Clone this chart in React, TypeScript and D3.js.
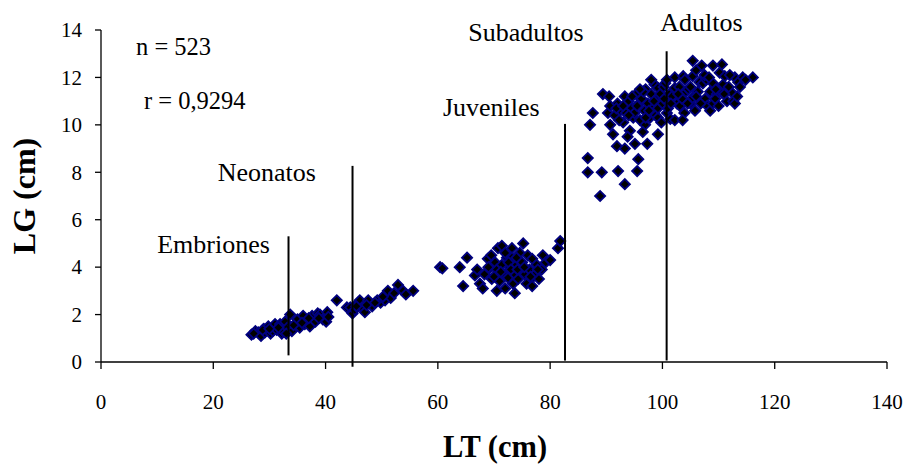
import React from "react";
import * as d3 from "d3";

// LT (cm) vs LG (cm) measurements, grouped by life stage cluster
const embrionesNeonatos: [number, number][] = [
  [26.8, 1.15], [27.5, 1.3], [28, 1.25], [28.5, 1.1], [29, 1.4], [29.2, 1.25], [29.8, 1.5],
  [30.2, 1.2], [30.6, 1.3], [31, 1.6], [31.3, 1.35], [31.9, 1.6], [32.2, 1.2], [32.4, 1.3],
  [32.8, 1.7], [33.2, 1.45], [33.7, 2.0], [34, 1.3], [34.6, 1.6], [35, 1.8], [35.4, 1.45],
  [36, 1.95], [36.3, 1.6], [36.8, 1.75], [37.2, 1.5], [37.6, 1.95], [38.2, 1.7], [38.6, 2.05],
  [39, 2.0], [39.5, 1.8], [40.1, 1.7], [40.3, 2.1], [42, 2.6], [43.8, 2.3], [44.4, 2.3],
  [44.8, 2.05], [45.2, 2.2], [45.8, 2.5], [46.1, 2.6], [46.5, 2.3], [47, 2.1], [47.6, 2.6],
  [48.3, 2.35], [49.2, 2.6], [49.8, 2.5], [50.6, 2.6], [51.1, 3.0], [51.6, 2.7], [52.9, 3.25],
  [53.8, 3.0], [54.3, 2.85], [55.6, 3.0],
  [27.2, 1.2], [28.8, 1.35], [30, 1.4], [31.6, 1.45], [33, 1.2], [34.3, 1.55], [35.8, 1.65],
  [37, 1.85], [38.8, 1.85], [40.5, 1.9], [45.5, 2.35], [47.3, 2.4], [48.8, 2.5], [50.2, 2.75],
  [52.2, 2.9],
];

const juveniles: [number, number][] = [
  [60.4, 4.0], [60.8, 3.95], [63.9, 4.0], [64.5, 3.2], [65.2, 4.4], [66.6, 3.65], [67, 3.9],
  [67.5, 3.3], [68, 3.1], [68.3, 3.7], [68.9, 4.35], [69.2, 3.95], [69.6, 3.5], [70.2, 4.2],
  [70.5, 3.0], [70.5, 3.9], [70.7, 4.8], [71, 3.4], [71.4, 4.9], [71.4, 4.1], [71.8, 3.7],
  [72, 3.1], [72.3, 4.4], [72.5, 3.55], [72.8, 4.0], [73.2, 4.8], [73.2, 4.4], [73.4, 3.3],
  [73.7, 3.7], [73.7, 2.9], [74, 4.1], [74.3, 3.5], [74.6, 4.6], [74.8, 3.9], [75, 4.2],
  [75.2, 5.0], [75.5, 3.7], [75.8, 3.3], [76, 4.5], [76.3, 3.9], [76.8, 4.35], [76.8, 3.2],
  [77, 3.6], [77.3, 3.7], [77.6, 4.1], [78, 3.5], [78.5, 3.9], [78.7, 4.5], [79.2, 4.2],
  [80, 4.3], [81.4, 4.8], [81.8, 5.1],
  [69, 4.0], [70, 3.6], [71.2, 3.8], [72.6, 4.2], [73, 3.9], [74.2, 3.9], [75.4, 4.0],
  [76.5, 3.6], [77.8, 3.9], [74, 4.4], [72, 4.6], [69.5, 4.5],
];

const subadultosAdultos: [number, number][] = [
  [86.7, 8.6], [86.7, 8.0], [88.9, 7.0], [89.2, 8.0], [92.1, 8.05], [93.3, 7.5], [95.5, 8.05],
  [95.7, 8.55], [91.9, 9.1], [93.3, 9.0], [95.1, 9.2], [97.3, 9.2], [87.1, 10.0], [87.6, 10.5],
  [89.4, 11.3], [90.3, 10.5], [90.7, 10.8], [90.7, 10.0], [93.3, 11.2], [93, 10.1], [94.8, 10.3],
  [94.2, 9.75], [96.9, 10.0], [96.5, 9.7], [99.2, 9.6], [91.2, 9.6], [93.8, 9.5],
  [91.5, 10.4], [92, 10.9], [92.5, 10.6], [93.5, 10.5], [94, 11.0], [94.5, 10.7], [95, 10.5],
  [95.3, 11.3], [95.8, 10.9], [96, 10.2], [96.3, 11.1], [96.8, 10.6], [97, 11.5], [97.4, 10.9],
  [97.8, 10.3], [98, 11.3], [98.3, 10.7], [98.6, 11.7], [98.8, 10.4], [99, 11.0], [99.2, 10.3],
  [99.2, 10.7], [99.2, 11.15], [99.2, 11.55], [99.6, 11.3], [100, 10.9], [100.2, 11.6],
  [100.5, 11.75], [100.8, 10.5], [101, 10.7], [101.2, 11.3], [101.4, 10.25], [101.7, 11.2],
  [102.2, 10.2], [102.2, 11.55], [102.2, 12.0], [102.6, 10.9], [103.1, 10.8], [103.5, 11.1],
  [103.7, 12.05], [103.9, 10.5], [104.2, 11.4], [104.6, 11.5], [105, 10.9], [105.4, 12.7],
  [105.4, 12.05], [105.4, 11.15], [105.8, 10.6], [106.3, 11.4], [106.6, 11.8], [107, 12.5],
  [107.2, 11.75], [107.6, 11.1], [108, 10.8], [108.5, 11.4], [108.5, 10.6], [109, 12.5],
  [109, 11.75], [109, 10.9], [109.7, 11.3], [110.2, 12.2], [110.6, 12.55], [110.6, 11.35],
  [110.8, 11.7], [111.1, 12.05], [111.5, 11.0], [112.4, 11.35], [112.6, 11.0], [112.9, 12.0],
  [112.9, 10.9], [113.5, 11.8], [113.8, 11.6], [114.3, 12.0], [116.1, 12.0],
  [92.3, 10.2], [94.6, 11.2], [96.6, 11.4], [97.6, 10.6], [100.3, 11.1], [103, 11.6],
  [104.5, 10.9], [106, 11.2], [107.8, 11.9], [111.8, 11.6], [109.4, 11.1], [106.8, 10.9],
  [90.5, 11.2], [91.8, 10.7], [93, 10.8], [94, 10.4], [95.5, 10.8], [97, 10.3], [98.5, 11.0],
  [96, 11.5], [98, 11.9], [100.8, 11.9], [102.8, 11.3], [104, 11.9], [105, 11.6], [106, 12.3],
  [107.5, 12.1], [108.3, 12.0], [109.5, 11.5], [110, 10.8], [111, 11.3], [112, 12.1],
  [113.3, 11.2], [114.8, 11.9], [103.6, 10.2], [101.5, 10.9], [99.8, 10.1],
];

const points = [...embrionesNeonatos, ...juveniles, ...subadultosAdultos];

// Stage boundary lines: LT position, bottom and top in LG units
const stageNames = ["Embriones", "Neonatos", "Juveniles", "Adultos"];
const stageLT = [33.4, 44.8, 82.65, 100.75];
const stageBottom = [0.28, -0.2, 0.06, 0.06];
const stageTop = [5.3, 8.27, 10.04, 13.1];

// Stage labels (left edge LT, baseline LG)
const labelNames = ["Embriones", "Neonatos", "Juveniles", "Subadultos", "Adultos"];
const labelLT = [10.0, 20.8, 60.9, 65.4, 99.6];
const labelLG = [4.6, 7.64, 10.38, 13.54, 13.96];

const xTicks = [0, 20, 40, 60, 80, 100, 120, 140];
const yTicks = [0, 2, 4, 6, 8, 10, 12, 14];

const statsText = ["n = 523", "r = 0,9294"];

const W = 908;
const H = 466;
const plot = { left: 101, right: 887, top: 30, bottom: 362 };
const font = "Liberation Serif, Times New Roman, DejaVu Serif, serif";

export default function App() {
  const x = d3.scaleLinear().domain([0, 140]).range([plot.left, plot.right]);
  const y = d3.scaleLinear().domain([0, 14]).range([plot.bottom, plot.top]);
  const diamond = d3.symbol(d3.symbolSquare, 52)() as string;

  return (
    <svg
      width={W}
      height={H}
      style={{ position: "absolute", left: 0, top: 0, background: "#fff", fontFamily: font }}
    >
      {/* axes */}
      <line x1={plot.left} x2={plot.left} y1={y(14)} y2={y(0)} stroke="#000" strokeWidth={1.3} />
      <line x1={x(0)} x2={x(140)} y1={y(0)} y2={y(0)} stroke="#000" strokeWidth={1.3} />
      {yTicks.map((t) => (
        <g key={"y" + t}>
          <line x1={plot.left - 6} x2={plot.left} y1={y(t)} y2={y(t)} stroke="#000" strokeWidth={1.3} />
          <text x={plot.left - 19} y={y(t)} dy="0.35em" textAnchor="end" fontSize={21}>
            {t}
          </text>
        </g>
      ))}
      {xTicks.map((t) => (
        <g key={"x" + t}>
          <line x1={x(t)} x2={x(t)} y1={y(0)} y2={y(0) + 7} stroke="#000" strokeWidth={1.3} />
          <text x={x(t)} y={y(0) + 47} textAnchor="middle" fontSize={21}>
            {t}
          </text>
        </g>
      ))}

      {/* axis titles */}
      <text x={495} y={457} textAnchor="middle" fontSize={30.5} fontWeight="bold">
        LT (cm)
      </text>
      <text
        transform={`translate(35, ${(plot.top + plot.bottom) / 2}) rotate(-90)`}
        textAnchor="middle"
        fontSize={32}
        fontWeight="bold"
      >
        LG (cm)
      </text>

      {/* data points */}
      {points.map(([lt, lg], i) => (
        <path
          key={i}
          d={diamond}
          transform={`translate(${x(lt)}, ${y(lg)}) rotate(45)`}
          fill="#000"
          stroke="#000080"
          strokeWidth={1.8}
        />
      ))}

      {/* stage boundaries */}
      {stageNames.map((s, i) => (
        <line
          key={s}
          x1={x(stageLT[i])}
          x2={x(stageLT[i])}
          y1={y(stageBottom[i])}
          y2={y(stageTop[i])}
          stroke="#000"
          strokeWidth={2}
        />
      ))}

      {labelNames.map((s, i) => (
        <text key={s} x={x(labelLT[i])} y={y(labelLG[i])} fontSize={26}>
          {s}
        </text>
      ))}

      <text x={136} y={55} fontSize={24.5}>
        {statsText[0]}
      </text>
      <text x={144} y={109} fontSize={24.5}>
        {statsText[1]}
      </text>
    </svg>
  );
}
